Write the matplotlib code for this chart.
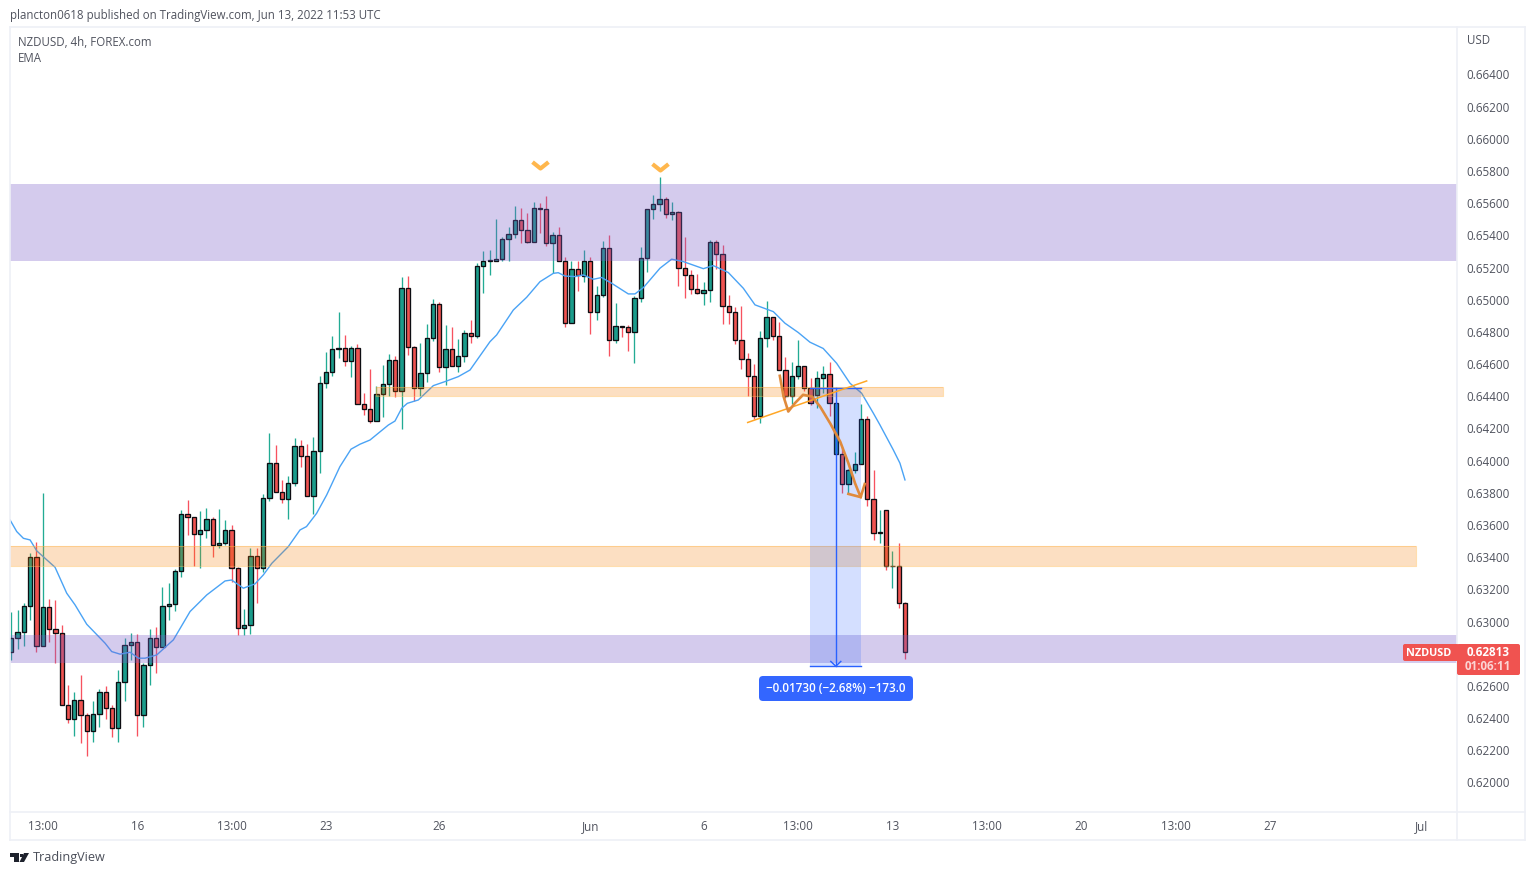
import matplotlib
matplotlib.use("Agg")
from matplotlib import pyplot as plt
from matplotlib.lines import Line2D
from matplotlib.patches import Rectangle, FancyBboxPatch, Polygon
from matplotlib.path import Path
from matplotlib.transforms import IdentityTransform

# candles, one value per 4h bar
opens = [
    0.62813, 0.62896, 0.62933, 0.63095, 0.63399, 0.62846, 0.63089, 0.62952, 0.62927, 0.62480,
    0.62393, 0.62511, 0.62417, 0.62318, 0.62424, 0.62560, 0.62461, 0.62337, 0.62622, 0.62852,
    0.62871, 0.62417, 0.62728, 0.62896, 0.62840, 0.63095, 0.63107, 0.63312, 0.63667, 0.63648,
    0.63542, 0.63567, 0.63636, 0.63474, 0.63486, 0.63567, 0.63331, 0.62958, 0.62977, 0.63406,
    0.63331, 0.63766, 0.63983, 0.63803, 0.63759, 0.63859, 0.64089, 0.64027, 0.63778, 0.64058,
    0.64480, 0.64549, 0.64692, 0.64698, 0.64621, 0.64698, 0.64350, 0.64319, 0.64248, 0.64412,
    0.64474, 0.64623, 0.64431, 0.65071, 0.64704, 0.64453, 0.64543, 0.64760, 0.64971, 0.64580,
    0.64692, 0.64586, 0.64648, 0.64791, 0.64773, 0.65208, 0.65239, 0.65239, 0.65251, 0.65375,
    0.65406, 0.65493, 0.65431, 0.65357, 0.65568, 0.65562, 0.65351, 0.65400, 0.65243, 0.64854,
    0.65189, 0.65150, 0.65239, 0.64922, 0.65028, 0.65320, 0.64748, 0.64835, 0.64829, 0.64798,
    0.65009, 0.65258, 0.65562, 0.65593, 0.65624, 0.65531, 0.65544, 0.65196, 0.65152, 0.65065,
    0.65040, 0.65059, 0.65357, 0.65283, 0.64959, 0.64922, 0.64748, 0.64630, 0.64524, 0.64276,
    0.64761, 0.64891, 0.64773, 0.64562, 0.64400, 0.64525, 0.64587, 0.64450, 0.64406, 0.64512,
    0.64537, 0.64040, 0.64040, 0.63853, 0.63940, 0.63978, 0.64257, 0.63760, 0.63549, 0.63691,
    0.63343, 0.63348, 0.63113,
]
closes = [
    0.62896, 0.62933, 0.63095, 0.63399, 0.62846, 0.63089, 0.62952, 0.62927, 0.62480, 0.62393,
    0.62511, 0.62417, 0.62318, 0.62424, 0.62560, 0.62461, 0.62337, 0.62622, 0.62852, 0.62871,
    0.62417, 0.62728, 0.62896, 0.62840, 0.63095, 0.63107, 0.63312, 0.63667, 0.63648, 0.63542,
    0.63567, 0.63636, 0.63474, 0.63486, 0.63567, 0.63331, 0.62958, 0.62977, 0.63406, 0.63331,
    0.63766, 0.63983, 0.63803, 0.63759, 0.63859, 0.64089, 0.64027, 0.63778, 0.64058, 0.64480,
    0.64549, 0.64692, 0.64698, 0.64621, 0.64698, 0.64350, 0.64319, 0.64248, 0.64412, 0.64474,
    0.64623, 0.64431, 0.65071, 0.64704, 0.64453, 0.64543, 0.64760, 0.64971, 0.64580, 0.64692,
    0.64586, 0.64648, 0.64791, 0.64773, 0.65208, 0.65239, 0.65245, 0.65251, 0.65375, 0.65406,
    0.65493, 0.65431, 0.65357, 0.65568, 0.65562, 0.65351, 0.65400, 0.65243, 0.64853, 0.65189,
    0.65152, 0.65239, 0.64922, 0.65028, 0.65320, 0.64748, 0.64835, 0.64829, 0.64798, 0.65009,
    0.65258, 0.65562, 0.65593, 0.65624, 0.65531, 0.65544, 0.65196, 0.65152, 0.65065, 0.65040,
    0.65059, 0.65357, 0.65283, 0.64959, 0.64922, 0.64748, 0.64630, 0.64524, 0.64276, 0.64761,
    0.64891, 0.64773, 0.64562, 0.64400, 0.64525, 0.64587, 0.64450, 0.64357, 0.64512, 0.64537,
    0.64357, 0.64357, 0.63853, 0.63940, 0.63978, 0.64257, 0.63760, 0.63549, 0.63555, 0.63343,
    0.63348, 0.63113, 0.62813,
]
highs = [
    0.63060, 0.63072, 0.63113, 0.63424, 0.63495, 0.63797, 0.63138, 0.63134, 0.62979, 0.62606,
    0.62562, 0.62668, 0.62432, 0.62506, 0.62579, 0.62600, 0.62482, 0.62699, 0.62896, 0.62927,
    0.62921, 0.62741, 0.62952, 0.62966, 0.63215, 0.63240, 0.63325, 0.63694, 0.63756, 0.63648,
    0.63687, 0.63706, 0.63648, 0.63700, 0.63631, 0.63600, 0.63337, 0.63078, 0.63455, 0.63455,
    0.63793, 0.64172, 0.64097, 0.63880, 0.63905, 0.64141, 0.64128, 0.64103, 0.64147, 0.64524,
    0.64673, 0.64775, 0.64924, 0.64781, 0.64712, 0.64725, 0.64420, 0.64569, 0.64462, 0.64594,
    0.64663, 0.64650, 0.65139, 0.65148, 0.64712, 0.64729, 0.64847, 0.65005, 0.64984, 0.64843,
    0.64831, 0.64756, 0.64812, 0.64874, 0.65226, 0.65301, 0.65309, 0.65502, 0.65390, 0.65452,
    0.65583, 0.65570, 0.65539, 0.65607, 0.65599, 0.65645, 0.65421, 0.65452, 0.65266, 0.65239,
    0.65239, 0.65309, 0.65264, 0.65086, 0.65363, 0.65403, 0.64980, 0.64835, 0.64843, 0.65026,
    0.65326, 0.65562, 0.65649, 0.65763, 0.65641, 0.65608, 0.65552, 0.65390, 0.65183, 0.65160,
    0.65111, 0.65372, 0.65372, 0.65341, 0.65030, 0.64957, 0.64961, 0.64671, 0.64601, 0.64804,
    0.64993, 0.64891, 0.64862, 0.64645, 0.64614, 0.64750, 0.64587, 0.64512, 0.64558, 0.64589,
    0.64614, 0.64357, 0.64087, 0.63950, 0.64052, 0.64351, 0.64276, 0.63940, 0.63694, 0.63691,
    0.63439, 0.63488, 0.63122,
]
lows = [
    0.62761, 0.62830, 0.62850, 0.63010, 0.62811, 0.62846, 0.62873, 0.62741, 0.62480, 0.62372,
    0.62291, 0.62247, 0.62167, 0.62254, 0.62347, 0.62397, 0.62285, 0.62254, 0.62509, 0.62761,
    0.62291, 0.62347, 0.62608, 0.62683, 0.62840, 0.63010, 0.63068, 0.63279, 0.63538, 0.63348,
    0.63335, 0.63517, 0.63401, 0.63455, 0.63474, 0.63248, 0.62913, 0.62917, 0.62925, 0.63118,
    0.63310, 0.63751, 0.63803, 0.63739, 0.63639, 0.63842, 0.63960, 0.63778, 0.63668, 0.63925,
    0.64453, 0.64528, 0.64638, 0.64588, 0.64522, 0.64350, 0.64286, 0.64236, 0.64248, 0.64273,
    0.64404, 0.64395, 0.64199, 0.64657, 0.64369, 0.64404, 0.64491, 0.64746, 0.64553, 0.64470,
    0.64586, 0.64553, 0.64615, 0.64733, 0.64764, 0.65044, 0.65156, 0.65239, 0.65241, 0.65243,
    0.65384, 0.65355, 0.65351, 0.65357, 0.65417, 0.65336, 0.65164, 0.65243, 0.64833, 0.64854,
    0.65057, 0.65113, 0.64790, 0.64877, 0.65019, 0.64653, 0.64734, 0.64771, 0.64684, 0.64609,
    0.64986, 0.65175, 0.65504, 0.65554, 0.65508, 0.65498, 0.65088, 0.65013, 0.65038, 0.65036,
    0.64970, 0.64986, 0.65193, 0.64852, 0.64852, 0.64725, 0.64572, 0.64402, 0.64261, 0.64232,
    0.64709, 0.64750, 0.64562, 0.64388, 0.64351, 0.64510, 0.64435, 0.64344, 0.64330, 0.64419,
    0.64280, 0.64040, 0.63797, 0.63797, 0.63922, 0.63978, 0.63719, 0.63509, 0.63486, 0.63321,
    0.63211, 0.63084, 0.62770,
]

# EMA line, bar position and price
ema_x = [-0.2, 0.86, 1.92, 2.98, 4.04, 6.95, 8.8, 10.13, 11.98, 14.9, 15.95, 17.28, 18.87, 20.2, 21.25,
         23.1, 25.75, 28.4, 31.05, 33.96, 35.0, 36.87, 38.73, 40.05, 41.4, 44.0, 45.87, 46.9, 48.5, 50.1,
         52.2, 53.97, 55.4, 56.99, 59.9, 60.96, 62.02, 62.92, 64.67, 67.05, 68.9, 71.02, 72.88, 76.05, 77.11, 79.76,
         81.88, 84.0, 86.12, 86.9, 87.97, 89.56, 90.88, 92.47, 93.8, 95.39, 98.03, 99.09, 100.42, 103.07,
         104.92, 106.77, 109.95, 111.54, 113.92, 116.31, 118.16, 121.07, 122.92, 125.04, 126.89, 129.0,
         131.13, 133.25, 135.1, 136.96, 138.01, 140.13, 141.19, 141.99]
ema_y = [0.63631, 0.63559, 0.63517, 0.63507, 0.63439, 0.63337, 0.63176, 0.63103, 0.62983, 0.62865, 0.62813,
         0.62797, 0.62809, 0.62772, 0.62772, 0.62792, 0.62886, 0.63062, 0.63165, 0.63252, 0.63258, 0.63207,
         0.63234, 0.63290, 0.63362, 0.63465, 0.63569, 0.63590, 0.63672, 0.63786, 0.63962, 0.64071, 0.64102, 0.64128, 0.64221,
         0.64246, 0.64325, 0.64356, 0.64377, 0.64466, 0.64491, 0.64522, 0.64563, 0.64739, 0.64781, 0.64936,
         0.65015, 0.65112, 0.65164, 0.65168, 0.65147, 0.65144, 0.65154, 0.65127, 0.65138, 0.65102, 0.65036,
         0.65036, 0.65075, 0.65196, 0.65252, 0.65237, 0.65193, 0.65212, 0.65169, 0.65071, 0.64968, 0.64926,
         0.64854, 0.64796, 0.64736, 0.64697, 0.64605, 0.64481, 0.64419, 0.64295, 0.64222, 0.64067, 0.63984,
         0.63880]

# hand drawn curve and trend line
curve_x = [122.1, 122.7, 123.45, 124.5, 125.8, 127.2, 128.5, 130.1, 131.7, 133.0, 134.05, 134.95, 135.6]
curve_y = [0.64527, 0.64398, 0.64305, 0.64357, 0.64409, 0.64398, 0.64336, 0.64232, 0.64118, 0.63984, 0.63860, 0.63773, 0.63855]
tail_x = [133.0, 134.95]
tail_y = [0.63793, 0.63773]
trend_x = [117.0, 135.9]
trend_y = [0.64237, 0.64495]

# zones: left bar, right bar, bottom price, top price
purple_zones = [(-0.3, 230, 0.65241, 0.65719), (-0.3, 230, 0.62741, 0.62917)]
orange_zones = [(58, 148, 0.64404, 0.64458), (-0.3, 223.2, 0.63348, 0.63470)]

peak_x = [84, 103]
peak_y = [0.65819, 0.65807]

measure_left = 126.9
measure_right = 135.0
measure_mid = 131
measure_top = 0.64450
measure_bottom = 0.62722

# 0.628 sits behind the last price tag
price_ticks = [0.620, 0.622, 0.624, 0.626, 0.630, 0.632, 0.634, 0.636, 0.638, 0.640, 0.642,
               0.644, 0.646, 0.648, 0.650, 0.652, 0.654, 0.656, 0.658, 0.660, 0.662, 0.664]
time_ticks = [5, 20, 35, 50, 68, 92, 110, 125, 140, 155, 170, 185, 200, 224]
time_labels = ["13:00", "16", "13:00", "23", "26", "Jun", "6", "13:00", "13", "13:00", "20", "13:00", "27", "Jul"]

W, H = 1535, 875
FONT = "Open Sans"
TXT = "#50535e"
GREEN = "#1b9c8b"
RED = "#ef5350"
BLUE = "#2962ff"
BORDER = "#eef0f6"

plt.rcParams["font.family"] = FONT
fig = plt.figure(figsize=(W / 100, H / 100), dpi=100, facecolor="white")


def fx(x):
    return x / W


def fy(y):
    return 1 - y / H


# rounded box given in picture pixels, top-left origin
def px_box(x0, y0, x1, y1, color, radius, zorder=8):
    fig.add_artist(FancyBboxPatch((x0, H - y1), x1 - x0, y1 - y0, boxstyle="round,pad=0,rounding_size=%s" % radius,
                                  fc=color, ec="none", transform=IdentityTransform(), zorder=zorder))


ax = fig.add_axes([fx(10), fy(812), fx(1457 - 10), (812 - 27) / H])
ax.set_xlim(-0.21, 229.7)
ax.set_ylim(0.61816, 0.66695)
for s in ax.spines.values():
    s.set_visible(False)

ax.yaxis.tick_right()
ax.set_yticks(price_ticks)
ax.set_yticklabels(["%.5f" % p for p in price_ticks])
ax.tick_params(axis="y", length=0, pad=6.5, labelsize=8.4, labelcolor=TXT)
ax.set_xticks(time_ticks)
ax.set_xticklabels(time_labels)
ax.tick_params(axis="x", length=0, pad=5.6, labelsize=8.4, labelcolor=TXT)

# candles
xs = list(range(len(opens)))
wick_col = ["#22ab94" if c >= o else "#f7525f" for o, c in zip(opens, closes)]
body_col = [GREEN if c >= o else RED for o, c in zip(opens, closes)]
ax.vlines(xs, lows, highs, colors=wick_col, lw=0.95, zorder=2)
ax.bar(xs, [abs(c - o) for o, c in zip(opens, closes)], bottom=[min(o, c) for o, c in zip(opens, closes)],
       width=0.68, color=body_col, edgecolor="#0d0d12", linewidth=0.95, zorder=2.5)

ax.plot(ema_x, ema_y, color="#4aa3f5", lw=1.0, zorder=3)

for x0, x1, y0, y1 in purple_zones:
    ax.add_patch(Rectangle((x0, y0), x1 - x0, y1 - y0, facecolor="#7b5fc9", alpha=0.32, lw=0, zorder=4))
for x0, x1, y0, y1 in orange_zones:
    ax.add_patch(Rectangle((x0, y0), x1 - x0, y1 - y0, facecolor="#f57c00", alpha=0.24, edgecolor="none", zorder=4))
    ax.plot([x0, x1, x1, x0, x0], [y0, y0, y1, y1, y0], color="#ffb74d", alpha=0.45, lw=0.8, zorder=4)

# measure tool
ax.add_patch(Rectangle((measure_left, measure_bottom), measure_right - measure_left, measure_top - measure_bottom,
                       facecolor=BLUE, alpha=0.2, lw=0, zorder=4.5))
ax.plot([measure_left, measure_right], [measure_top, measure_top], color=BLUE, lw=1.0, zorder=5)
ax.plot([measure_left, measure_right], [measure_bottom, measure_bottom], color=BLUE, lw=1.0, zorder=5)
ax.plot([measure_mid, measure_mid], [measure_top, measure_bottom], color=BLUE, lw=1.0, zorder=5)
ax.plot([measure_mid - 0.8, measure_mid, measure_mid + 0.8],
        [measure_bottom + 0.00030, measure_bottom, measure_bottom + 0.00030], color=BLUE, lw=1.0, zorder=5)

ax.plot(trend_x, trend_y, color="#ffa726", lw=1.1, zorder=6)
ax.plot(curve_x, curve_y, color="#e08a3c", lw=1.9, zorder=6, solid_joinstyle="round")
ax.plot(tail_x, tail_y, color="#e08a3c", lw=1.9, zorder=6)

chevron = Path([(-1, 0.8), (0, 0), (1, 0.8)], [Path.MOVETO, Path.LINETO, Path.LINETO])
ax.plot(peak_x, peak_y, ls="none", marker=chevron, ms=11.5, mew=3.0, mec="#ffb74d", mfc="none", zorder=6)

# frame around panes
for a, b, c, d in [(10, 27, 1525, 27), (10, 812, 1525, 812), (10, 840, 1525, 840),
                   (10, 27, 10, 840), (1457, 27, 1457, 840), (1525, 27, 1525, 840)]:
    fig.add_artist(Line2D([fx(a), fx(c)], [fy(b), fy(d)], color=BORDER, lw=1.2))

fig.text(fx(10), fy(15), "plancton0618 published on TradingView.com, Jun 13, 2022 11:53 UTC", fontsize=8.3, color=TXT, va="center")
fig.text(fx(18), fy(42.5), "NZDUSD, 4h, FOREX.com", fontsize=8.3, color=TXT, va="center")
fig.text(fx(18), fy(59), "EMA", fontsize=8.3, color=TXT, va="center")
fig.text(fx(1467), fy(41), "USD", fontsize=8.3, color=TXT, va="center")

# last price tags
px_box(1403, 644, 1459, 661, "#f05350", 2)
px_box(1457, 644, 1520, 675, "#f05350", 2)
fig.text(fx(1428.5), fy(653), "NZDUSD", fontsize=7.8, color="white", weight="bold", ha="center", va="center", zorder=9)
fig.text(fx(1488), fy(652.5), "%.5f" % closes[-1], fontsize=8.4, color="white", weight="bold", ha="center", va="center", zorder=9)
fig.text(fx(1488), fy(666.5), "01:06:11", fontsize=8.4, color="#fbd5d4", weight="bold", ha="center", va="center", zorder=9)

# measure label
px_box(759, 676, 913, 701, "#3366ff", 4)
fig.text(fx(836), fy(688), "\u22120.01730 (\u22122.68%) \u2212173.0", fontsize=8.4, color="white", weight="semibold",
         ha="center", va="center", zorder=9)

# TradingView logo
logo = "#1e222d"
fig.add_artist(Polygon([(fx(10), fy(853)), (fx(19), fy(853)), (fx(19), fy(862)), (fx(14.5), fy(862)),
                        (fx(14.5), fy(856.5)), (fx(10), fy(856.5))], closed=True, fc=logo, ec="none"))
fig.add_artist(Polygon([(fx(24), fy(853)), (fx(29), fy(853)), (fx(24), fy(862)), (fx(19.5), fy(862))],
                       closed=True, fc=logo, ec="none"))
fig.add_artist(Rectangle((fx(19.8), fy(856.5)), fx(3), 3 / H, fc=logo, ec="none"))
fig.text(fx(33), fy(858), "TradingView", fontsize=9.1, color="#4a4e59", va="center")

fig.savefig("out.png", dpi=100, facecolor="white")
